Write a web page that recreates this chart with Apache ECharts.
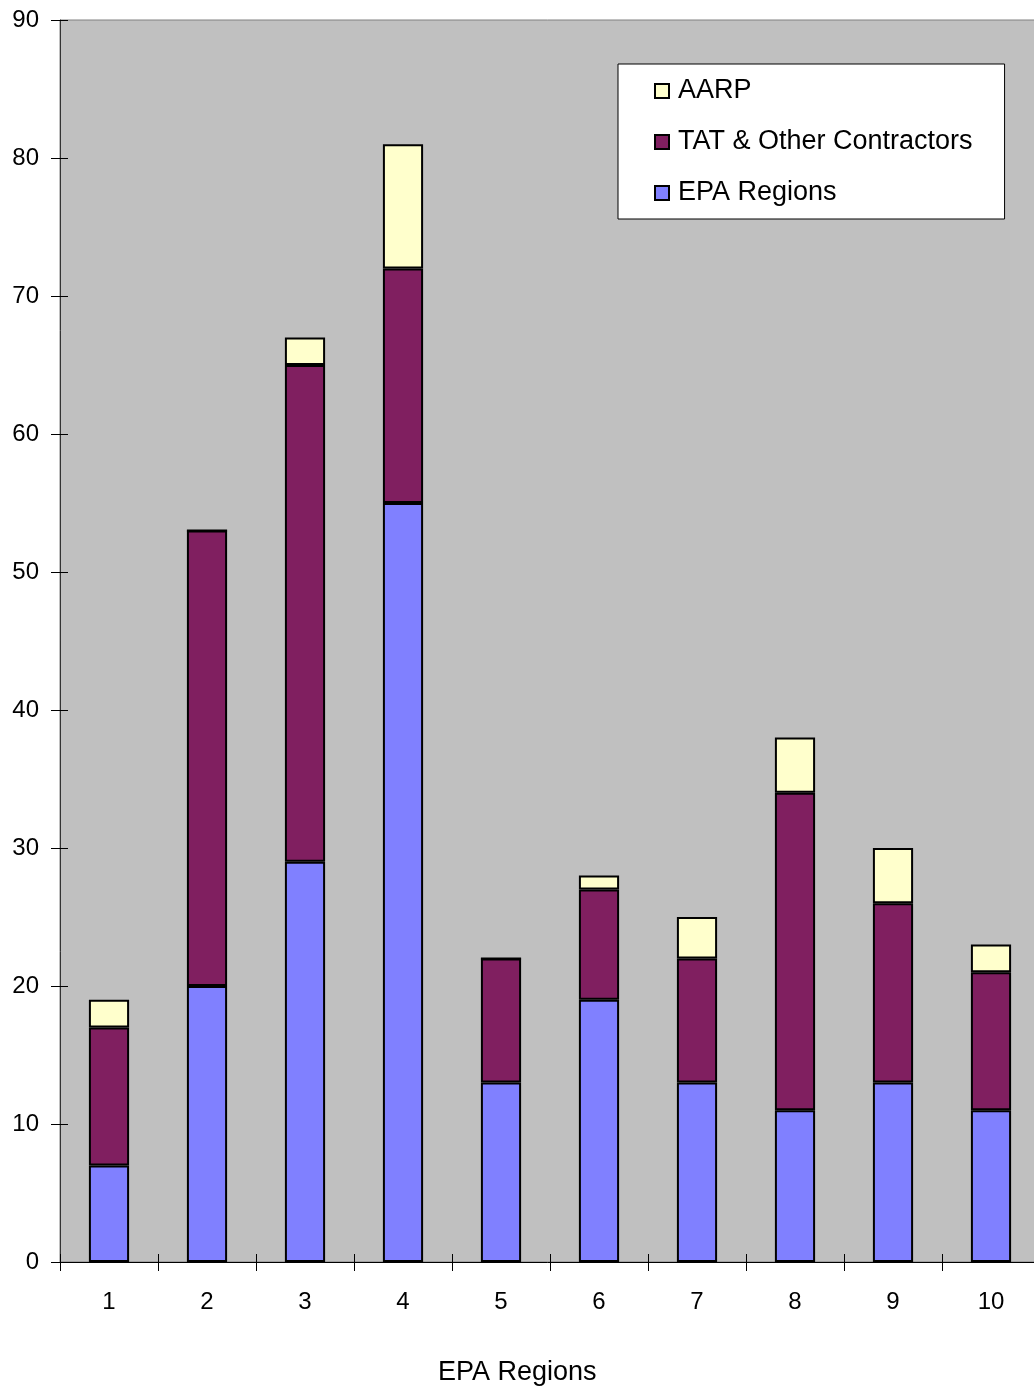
<!DOCTYPE html>
<html>
<head>
<meta charset="utf-8">
<script src="https://cdn.jsdelivr.net/npm/echarts@6/dist/echarts.min.js"></script>
<style>
  html, body { margin: 0; padding: 0; background: #fff; }
  #chart { width: 1034px; height: 1388px; }
</style>
</head>
<body>
<div id="chart"></div>
<script>
  const regions = ['1', '2', '3', '4', '5', '6', '7', '8', '9', '10'];
  const epaRegions = [7, 20, 29, 55, 13, 19, 13, 11, 13, 11];
  const tatContractors = [10, 33, 36, 17, 9, 8, 9, 23, 13, 10];
  const aarp = [2, 0, 2, 9, 0, 1, 3, 4, 4, 2];

  const font = 'Liberation Sans, Arial, sans-serif';
  const chart = echarts.init(document.getElementById('chart'));

  const barStyle = (color) => ({ color: color, borderColor: '#000', borderWidth: 2 });

  const option = {
    animation: false,
    textStyle: { fontFamily: font },
    title: {
      text: 'EPA Regions',
      left: 433,
      top: 1354,
      textStyle: { fontFamily: font, fontSize: 27, fontWeight: 'normal', color: '#000' }
    },
    legend: {
      left: 618,
      top: 64,
      orient: 'vertical',
      icon: 'rect',
      data: ['AARP', 'TAT & Other Contractors', 'EPA Regions'],
      backgroundColor: '#fff',
      borderColor: '#000',
      borderWidth: 1,
      padding: [12, 32, 11, 36],
      itemWidth: 14,
      itemHeight: 14,
      itemGap: 21,
      itemStyle: { borderColor: '#000', borderWidth: 2 },
      textStyle: { fontFamily: font, fontSize: 27, color: '#000', lineHeight: 30, padding: [0, 0, 0, 4] }
    },
    grid: {
      left: 60,
      width: 980,
      top: 20,
      bottom: 126,
      outerBoundsMode: 'none',
      show: true,
      backgroundColor: '#C0C0C0',
      borderColor: '#808080',
      borderWidth: 1
    },
    // first axis of each pair: ticks crossing the line (shifted 8px in) + labels; second: the line only
    xAxis: [{
      type: 'category',
      data: regions,
      offset: -8,
      z: 5,
      axisLine: { show: false },
      axisTick: { show: true, length: 17, lineStyle: { color: '#000' } },
      axisLabel: { fontFamily: font, fontSize: 24, color: '#000', margin: 36 }
    }, {
      type: 'category',
      data: regions,
      position: 'bottom',
      z: 5,
      axisLine: { show: true, lineStyle: { color: '#000', width: 1 } },
      axisTick: { show: false },
      axisLabel: { show: false }
    }],
    yAxis: [{
      type: 'value',
      min: 0,
      max: 90,
      interval: 10,
      offset: -8,
      z: 5,
      axisLine: { show: false },
      axisTick: { show: true, length: 17, lineStyle: { color: '#000' } },
      axisLabel: { fontFamily: font, fontSize: 24, color: '#000', margin: 29 },
      splitLine: { show: false }
    }, {
      type: 'value',
      min: 0,
      max: 90,
      interval: 10,
      position: 'left',
      z: 5,
      axisLine: { show: true, lineStyle: { color: '#333', width: 1 } },
      axisTick: { show: false },
      axisLabel: { show: false },
      splitLine: { show: false }
    }],
    series: [{
      name: 'EPA Regions',
      type: 'bar',
      stack: 'total',
      barWidth: '41%',
      data: epaRegions,
      itemStyle: barStyle('#8080FF')
    }, {
      name: 'TAT & Other Contractors',
      type: 'bar',
      stack: 'total',
      barWidth: '41%',
      data: tatContractors,
      itemStyle: barStyle('#801F60')
    }, {
      name: 'AARP',
      type: 'bar',
      stack: 'total',
      barWidth: '41%',
      data: aarp,
      itemStyle: barStyle('#FFFFCC')
    }]
  };

  chart.setOption(option);
</script>
</body>
</html>
